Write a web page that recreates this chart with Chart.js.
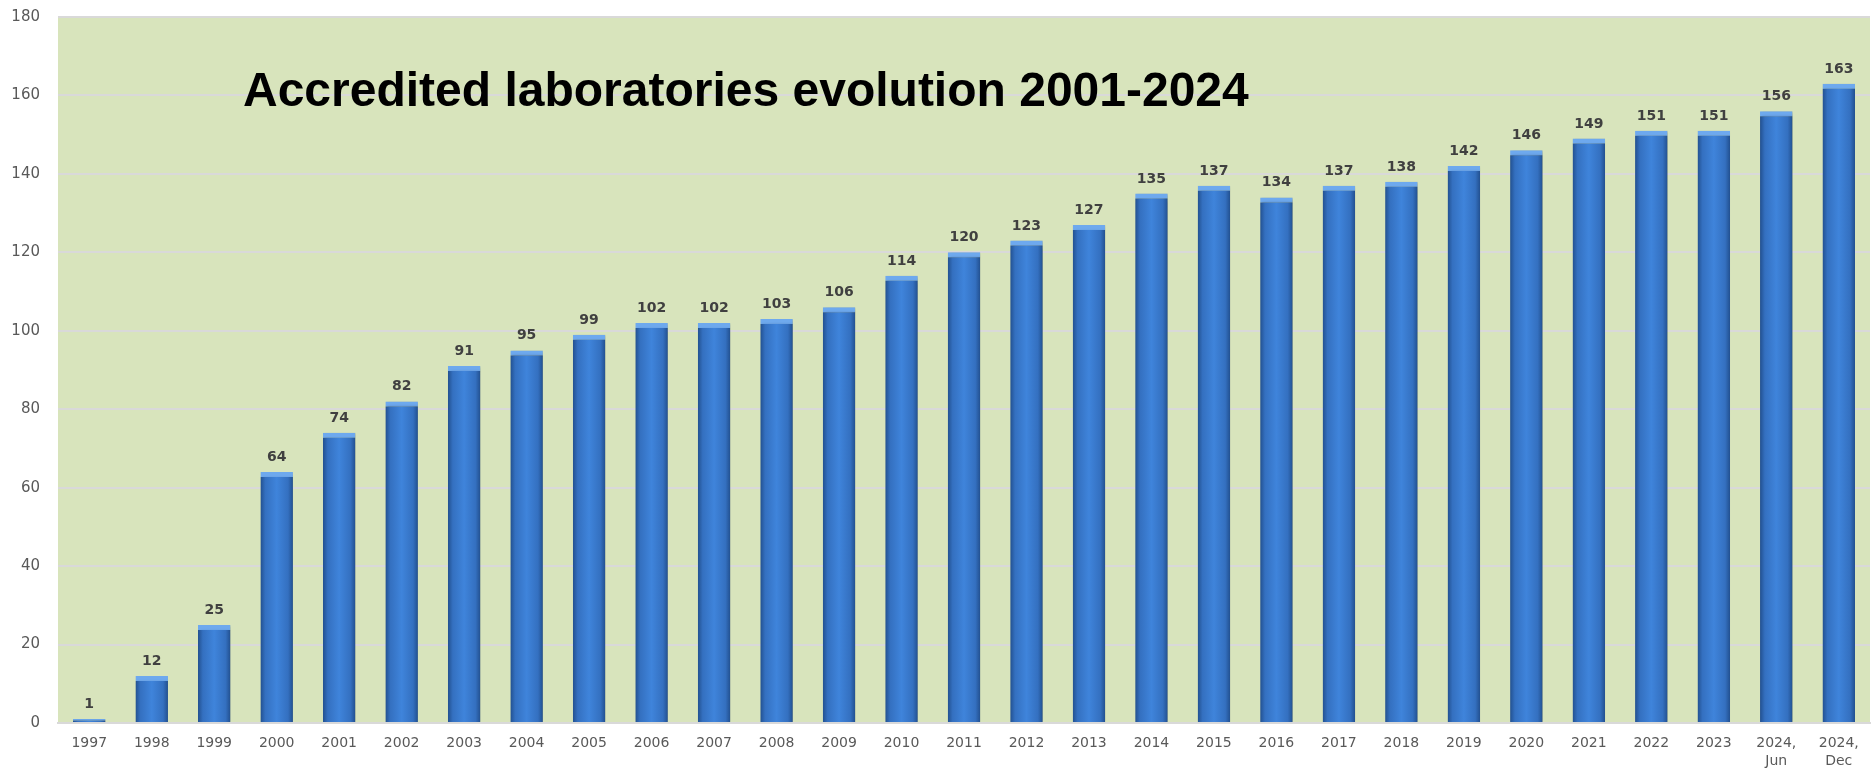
<!DOCTYPE html>
<html><head><meta charset="utf-8">
<script src="https://cdn.jsdelivr.net/npm/chart.js@4.4.1/dist/chart.umd.min.js"></script>
<style>html,body{margin:0;padding:0;background:#fff}#wrap{width:1875px;height:770px}</style>
</head><body><div id="wrap"><canvas id="c" width="1875" height="770"></canvas></div>
<script>
const categories = ['1997','1998','1999','2000','2001','2002','2003','2004','2005','2006','2007','2008','2009','2010','2011','2012','2013','2014','2015','2016','2017','2018','2019','2020','2021','2022','2023',['2024,','Jun'],['2024,','Dec']];
const laboratories = [1,12,25,64,74,82,91,95,99,102,102,103,106,114,120,123,127,135,137,134,137,138,142,146,149,151,151,156,163];
const titleText = 'Accredited laboratories evolution 2001-2024';
const yTicks = {min:0, max:180, step:20};
const BAR_PCT = 0.52;

const bgPlugin = {
  id:'bg',
  beforeDraw(chart){
    const {ctx, chartArea:a} = chart;
    ctx.save(); ctx.fillStyle='#d8e4bc'; ctx.fillRect(a.left,a.top,a.right-a.left,a.bottom-a.top); ctx.restore();
  },
  beforeDatasetsDraw(chart){
    const {ctx} = chart;
    ctx.save();
    ctx.font='bold 48px "Liberation Sans", Arial, sans-serif';
    ctx.fillStyle='#000'; ctx.textBaseline='alphabetic'; ctx.textAlign='left';
    ctx.fillText(titleText, 243, 106);
    ctx.restore();
    ctx.save();
    ctx.shadowColor='rgba(0,0,0,0.3)'; ctx.shadowOffsetX=2; ctx.shadowOffsetY=1; ctx.shadowBlur=3;
  },
  afterDatasetsDraw(chart){
    const {ctx} = chart;
    ctx.restore();
    const meta = chart.getDatasetMeta(0);
    ctx.save();
    ctx.font='bold 14px "DejaVu Sans", sans-serif';
    ctx.fillStyle='#404040'; ctx.textAlign='center'; ctx.textBaseline='alphabetic';
    meta.data.forEach((el,i)=>{ ctx.fillText(String(laboratories[i]), el.x, el.y-11); });
    ctx.restore();
  }
};

function barGradient(c){
  const chart=c.chart, xs=chart.scales && chart.scales.x;
  if(!xs || c.dataIndex===undefined) return '#3a7ed4';
  const cx=xs.getPixelForValue(c.dataIndex);
  const w=(xs.width/categories.length)*BAR_PCT;
  if(!isFinite(cx) || !isFinite(w) || w<=0) return '#3a7ed4';
  const g=chart.ctx.createLinearGradient(cx-w/2,0,cx+w/2,0);
  g.addColorStop(0,'#22508f');
  g.addColorStop(0.15,'#3470c0');
  g.addColorStop(0.5,'#3f84db');
  g.addColorStop(0.85,'#3470c0');
  g.addColorStop(1,'#22508f');
  return g;
}

new Chart(document.getElementById('c'),{
  type:'bar',
  data:{labels:categories,datasets:[{data:laboratories,backgroundColor:barGradient,borderColor:'#6ea9ee',borderWidth:{top:5,left:0,right:0,bottom:0},borderSkipped:'bottom',categoryPercentage:1,barPercentage:BAR_PCT}]},
  options:{
    responsive:false,animation:false,devicePixelRatio:1,
    layout:{padding:{top:17,right:5,left:0,bottom:0}},
    plugins:{legend:{display:false},title:{display:false},tooltip:{enabled:false}},
    scales:{
      x:{grid:{display:false},border:{display:true,color:'#d9d9d9',width:2},
         ticks:{color:'#595959',font:{family:'"DejaVu Sans", sans-serif',size:14,lineHeight:1.25},padding:4,maxRotation:0,autoSkip:false},
         afterFit(s){s.height=47; s.paddingLeft=0; s.paddingRight=0;}},
      y:{min:yTicks.min,max:yTicks.max,
         grid:{color:'#d9d9d9',lineWidth:2,drawTicks:false},border:{display:false},
         ticks:{stepSize:yTicks.step,color:'#595959',font:{family:'"DejaVu Sans", sans-serif',size:15},padding:18},
         afterFit(s){s.width=58; s.paddingTop=0; s.paddingBottom=0;}}
    }
  },
  plugins:[bgPlugin]
});
</script></body></html>
